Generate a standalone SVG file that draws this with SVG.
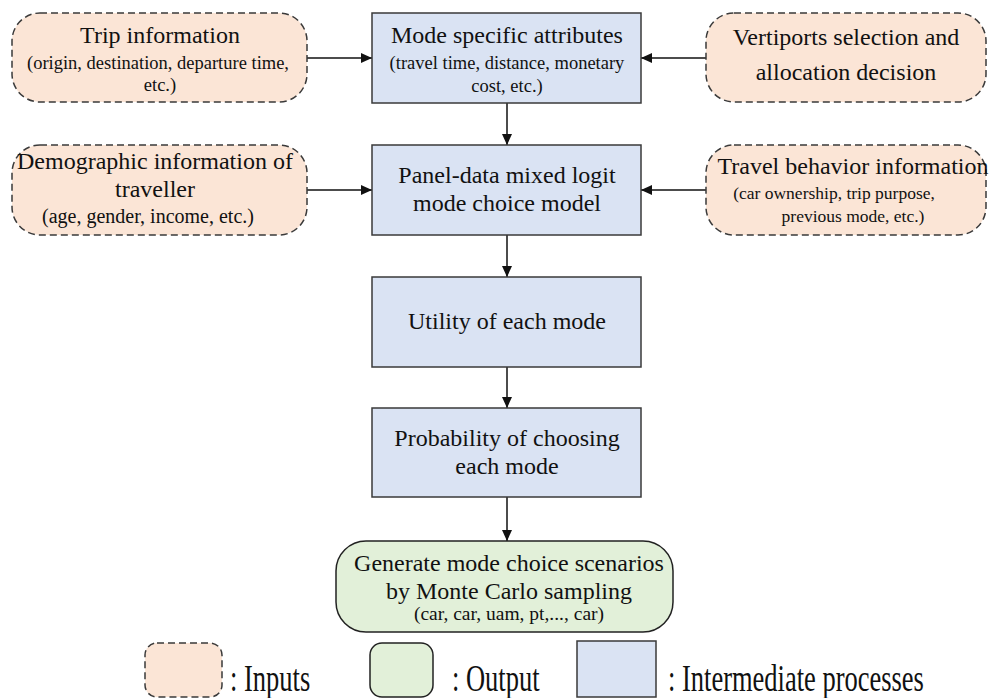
<svg xmlns="http://www.w3.org/2000/svg" width="990" height="698" viewBox="0 0 990 698">
<style>
.inp{fill:#FBE5D6;stroke:#3a3a3a;stroke-width:1.5;stroke-dasharray:7 4}
.proc{fill:#DAE3F3;stroke:#3a3a3a;stroke-width:1.5}
.out{fill:#E2F0D9;stroke:#222;stroke-width:1.5}
text{font-family:'Liberation Serif','Times New Roman',serif;fill:#111;text-anchor:middle}
.t{font-size:24px}
.s{font-size:18.5px}
.lg{font-size:26.5px;text-anchor:start}
.c{stroke:#111;stroke-width:1.5;fill:none}
</style>
<defs>
<marker id="ah" markerWidth="11" markerHeight="10" refX="11" refY="5" orient="auto" markerUnits="userSpaceOnUse">
<path d="M0,0 L11,5 L0,10 z" fill="#111"/>
</marker>
</defs>
<g id="connectors">
<line class="c" x1="307" y1="58" x2="372" y2="58" marker-end="url(#ah)"/>
<line class="c" x1="706" y1="58" x2="641" y2="58" marker-end="url(#ah)"/>
<line class="c" x1="307" y1="190" x2="372" y2="190" marker-end="url(#ah)"/>
<line class="c" x1="706" y1="190" x2="641" y2="190" marker-end="url(#ah)"/>
<line class="c" x1="507" y1="103" x2="507" y2="145" marker-end="url(#ah)"/>
<line class="c" x1="507" y1="235" x2="507" y2="277" marker-end="url(#ah)"/>
<line class="c" x1="507" y1="367" x2="507" y2="408" marker-end="url(#ah)"/>
<line class="c" x1="507" y1="497" x2="507" y2="541" marker-end="url(#ah)"/>
</g>
<g id="trip">
<rect class="inp" x="12" y="13" width="295" height="89" rx="28"/>
<text class="t" x="160" y="43">Trip information</text>
<text class="s" x="158" y="69">(origin, destination, departure time,</text>
<text class="s" x="160" y="91">etc.)</text>
</g>
<g id="mode">
<rect class="proc" x="372" y="13" width="269" height="90"/>
<text class="t" x="507" y="43">Mode specific attributes</text>
<text class="s" x="507" y="69">(travel time, distance, monetary</text>
<text class="s" x="507" y="92">cost, etc.)</text>
</g>
<g id="vertiports">
<rect class="inp" x="706" y="13" width="280" height="89" rx="28"/>
<text class="t" x="846" y="45">Vertiports selection and</text>
<text class="t" x="846" y="80">allocation decision</text>
</g>
<g id="demographic">
<rect class="inp" x="12" y="145" width="295" height="90" rx="28"/>
<text class="t" x="155" y="169">Demographic information of</text>
<text class="t" x="155" y="197">traveller</text>
<text class="s" x="148" y="223" style="font-size:20px">(age, gender, income, etc.)</text>
</g>
<g id="panel">
<rect class="proc" x="372" y="145" width="269" height="90"/>
<text class="t" x="507" y="183">Panel-data mixed logit</text>
<text class="t" x="507" y="211">mode choice model</text>
</g>
<g id="travel">
<rect class="inp" x="706" y="145" width="280" height="90" rx="28"/>
<text class="t" x="853" y="174">Travel behavior information</text>
<text class="s" x="834" y="199" style="font-size:17.5px">(car ownership, trip purpose,</text>
<text class="s" x="853" y="222" style="font-size:17.5px">previous mode, etc.)</text>
</g>
<g id="utility">
<rect class="proc" x="372" y="277" width="269" height="90"/>
<text class="t" x="507" y="329">Utility of each mode</text>
</g>
<g id="probability">
<rect class="proc" x="372" y="408" width="269" height="89"/>
<text class="t" x="507" y="446">Probability of choosing</text>
<text class="t" x="507" y="474">each mode</text>
</g>
<g id="output">
<rect class="out" x="336" y="541" width="337" height="91" rx="30"/>
<text class="t" x="509" y="571">Generate mode choice scenarios</text>
<text class="t" x="509" y="599">by Monte Carlo sampling</text>
<text class="s" x="509" y="620" style="font-size:19.5px">(car, car, uam, pt,..., car)</text>
</g>
<g id="legend">
<rect class="inp" x="145" y="643" width="77" height="54" rx="12"/>
<text class="lg" transform="translate(230,691) scale(1,1.4)">: Inputs</text>
<rect class="out" x="370" y="643" width="63" height="54" rx="12"/>
<text class="lg" transform="translate(452,691) scale(1,1.4)">: Output</text>
<rect class="proc" x="577" y="641" width="79" height="56"/>
<text class="lg" transform="translate(668,691) scale(1,1.4)">: Intermediate processes</text>
</g>
</svg>
